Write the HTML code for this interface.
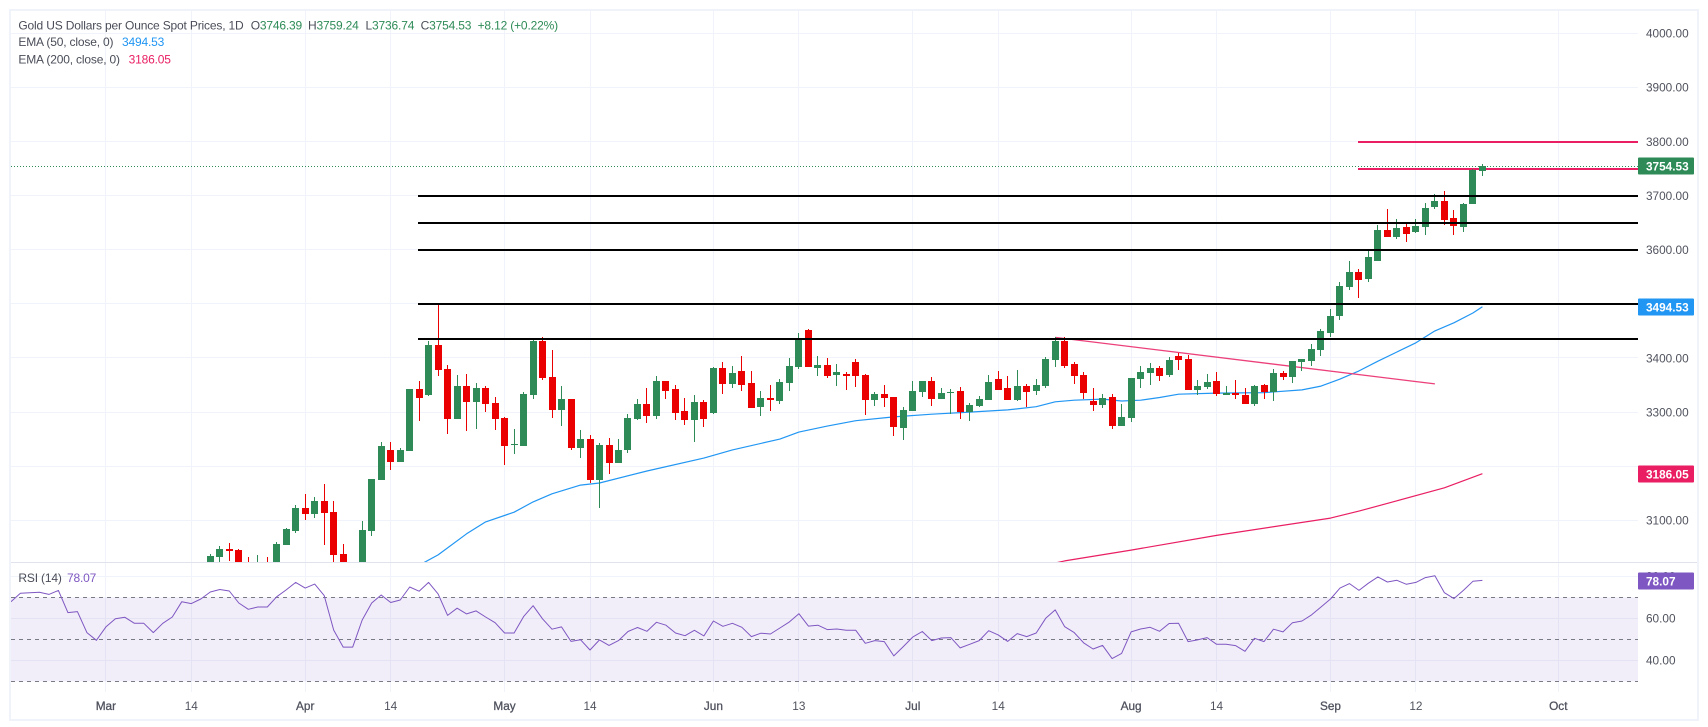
<!DOCTYPE html>
<html lang="en">
<head>
<meta charset="utf-8">
<title>Gold US Dollars per Ounce Spot Prices, 1D</title>
<style>
html,body{margin:0;padding:0;background:#fff;width:1708px;height:727px;overflow:hidden}
svg{display:block}
text{font-family:"Liberation Sans",sans-serif;font-size:12px;fill:#50535e}
.lg{font-size:12px;fill:#4a4d58;letter-spacing:-0.17px}
.gv{font-size:12px;fill:#2e8b57;letter-spacing:-0.17px}
.tag{font-weight:bold;fill:#fff;font-size:11.8px}
.ax{font-size:11.8px;fill:#50535e}
</style>
</head>
<body>
<svg id="chart" width="1708" height="727" viewBox="0 0 1708 727" xmlns="http://www.w3.org/2000/svg">
  <defs>
    <clipPath id="main-clip"><rect x="11" y="11" width="1627" height="551"></rect></clipPath>
    <clipPath id="rsi-clip"><rect x="11" y="563" width="1627" height="129"></rect></clipPath>
  </defs>
  <rect x="10" y="10" width="1688" height="710" fill="#fff" stroke="#f0f3fa" stroke-width="2"></rect>
  <g id="grid" shape-rendering="crispEdges"></g>
  <rect id="rsi-band" fill="#7e57c2" fill-opacity="0.1"></rect>
  <g id="rsi-dashes" shape-rendering="crispEdges"></g>
  <g id="main" clip-path="url(#main-clip)">
    <g id="emas"></g>
    <g id="drawn-pink"></g>
    <g id="candles" shape-rendering="crispEdges"></g>
    <g id="drawn-black" shape-rendering="crispEdges"></g>
  </g>
  <line x1="11" y1="562.5" x2="1697" y2="562.5" stroke="#e0e3eb" stroke-width="1"></line>
  <g id="rsi" clip-path="url(#rsi-clip)"></g>
  <g id="y-axis"></g>
  <g id="rsi-axis"></g>
  <g id="x-axis"></g>
  <g id="tags"></g>

  <g>
    <text class="lg" x="18.4" y="29.6">Gold US Dollars per Ounce Spot Prices, 1D</text>
    <text class="lg" x="250.7" y="29.6">O<tspan class="gv" fill="#2e8b57">3746.39</tspan></text>
    <text class="lg" x="308" y="29.6">H<tspan class="gv" fill="#2e8b57">3759.24</tspan></text>
    <text class="lg" x="365.5" y="29.6">L<tspan class="gv" fill="#2e8b57">3736.74</tspan></text>
    <text class="lg" x="420.6" y="29.6">C<tspan class="gv" fill="#2e8b57">3754.53</tspan></text>
    <text class="gv" x="477.6" y="29.6">+8.12 (+0.22%)</text>
    <text class="lg" x="18.4" y="46">EMA (50, close, 0)</text>
    <text class="lg" x="122" y="46" style="fill:#2196f3">3494.53</text>
    <text class="lg" x="18.4" y="63.4">EMA (200, close, 0)</text>
    <text class="lg" x="128.6" y="63.4" style="fill:#e91e63">3186.05</text>
    <text class="lg" x="18.4" y="582">RSI (14)</text>
    <text class="lg" x="67" y="582" style="fill:#7e57c2">78.07</text>
  </g>
</svg>
<script>
var opens = [3000,3032,3047,3045,3020,3010,3020,3020,3054,3080,3123,3112,3136,3115,3038,2985,
2980,3080,3175,3230,3208,
3228,3342,3331,3424,3379,3287,3348,3318,3344,3316,
3289,3239,3237,3331,3431,3364,3303,3324,3234,3251,
3175,3239,3205,3229,3287,3315,3292,3357,3342,3302,
3285,3318,3298,3381,3352,3376,3353,3309,3326,3320,
3353,3383,3451,3381,3387,3368,3370,3392,3368,3322,
3333,3328,3270,3302,3337,3357,3324,3335,3339,3300,
3311,3322,3361,3344,3322,3348,3339,3348,3396,3431,
3389,3368,3320,3313,3328,3274,3289,3361,3372,3381,
3368,3403,3398,3340,3346,3357,3331,3335,3331,3315,
3350,3337,3372,3365,3393,3395,3415,3447,
3478,3531,3559,3546,3579,3637,3624,3642,3633,3642,3679,3690,3659,3642,3685,3746.39];
var highs = [3038,3053,3058,3047,3032,3036,3032,3060,3086,3128,3149,3143,3167,3136,3056,2990,
3099,3176,3245,3245,3234,
3342,3357,3431,3500,3387,3368,3370,3353,3348,3328,
3291,3268,3337,3435,3438,3414,3348,3324,3266,3258,
3242,3252,3250,3296,3324,3344,3366,3357,3350,3326,
3331,3322,3383,3392,3385,3403,3376,3339,3350,3361,
3400,3446,3453,3403,3400,3388,3374,3398,3370,3337,
3350,3328,3309,3357,3358,3364,3344,3342,3346,3316,
3330,3368,3376,3366,3378,3352,3361,3401,3438,3438,
3392,3374,3344,3333,3333,3315,3363,3385,3390,3385,
3401,3409,3405,3359,3370,3374,3348,3359,3344,3350,
3352,3380,3376,3395,3399,3425,3454,3491,
3541,3579,3565,3600,3646,3676,3657,3650,3657,3687,3703,3709,3674,3687,3750,3759.24];
var lows = [2990,3020,3025,3015,3005,3000,3005,3015,3054,3077,3101,3104,3054,3015,2970,2960,
2960,3071,3175,3193,3208,
3228,3283,3329,3366,3259,3287,3265,3268,3300,3267,
3202,3222,3237,3324,3359,3289,3274,3230,3216,3168,
3122,3185,3205,3225,3285,3279,3287,3324,3285,3276,
3244,3272,3296,3333,3344,3339,3307,3292,3302,3315,
3339,3379,3383,3366,3363,3348,3340,3346,3294,3311,
3309,3255,3248,3302,3327,3311,3324,3296,3287,3283,
3309,3322,3340,3322,3320,3309,3331,3344,3383,3381,
3352,3324,3302,3307,3268,3274,3281,3344,3350,3357,
3364,3377,3340,3331,3342,3329,3331,3324,3315,3311,
3324,3321,3359,3353,3375,3386,3404,3438,
3470,3526,3511,3541,3579,3624,3620,3615,3631,3627,3676,3646,3628,3633,3685,3736.74];
var closes = [3034,3047,3043,3022,3015,3020,3015,3056,3084,3123,3112,3136,3114,3036,2975,2970,
3082,3176,3237,3208,3230,
3342,3326,3424,3377,3287,3348,3318,3344,3315,3287,
3237,3241,3333,3431,3363,3303,3324,3233,3251,3175,
3240,3205,3229,3289,3315,3292,3357,3339,3298,3285,
3318,3287,3381,3352,3372,3350,3307,3326,3322,3355,
3385,3433,3383,3387,3366,3374,3366,3366,3322,3333,
3326,3272,3303,3339,3357,3324,3335,3337,3300,3313,
3324,3355,3340,3322,3348,3337,3350,3398,3431,3385,
3366,3335,3313,3326,3274,3291,3363,3374,3381,3366,
3396,3396,3340,3348,3355,3333,3335,3331,3315,3348,
3337,3373,3364,3395,3399,3417,3449,3478,
3533,3559,3544,3587,3637,3624,3640,3629,3644,3677,3690,3655,3644,3685,3748,3754.53];

var ema50Bars = [22,24,27,29,32,34,36,39,41,46,52,55,60,62,65,68,72,76,80,84,87,89,91,94,96,98,100,102,106,111,115,117,119,121,123,125,127,129,131,133,134];
var ema50Values = [3017,3036,3075,3097,3115,3134,3149,3165,3169,3191,3215,3230,3250,3263,3274,3284,3291,3296,3300,3304,3310,3319,3322,3324,3320.5,3322,3327,3333,3335,3336,3341,3348,3361,3376,3394,3411,3428,3450,3465,3483,3494.53];
var ema200Bars = [89,90,97,106,118,121,125,130,134];
var ema200Values = [3021,3025,3045,3072,3104,3117,3136,3160,3186.05];

var rsiStartBar = -21;
var rsiValues = [67.9,71.9,72.2,72.4,71.4,73.3,62.7,63.2,53.2,49.5,55.9,59.8,60.5,57.6,57.6,53.2,57.6,60.6,67.9,67.0,69.2,72.5,73.7,73.0,67.3,64.3,65.4,65.4,70.3,73.5,77.1,74.4,76.3,70.8,54.4,46.3,46.3,59.2,67.3,71.1,67.5,68.7,74.9,72.9,77.1,71.6,61.4,64.8,62.1,63.5,60.6,57.9,53.0,53.0,60.8,66.0,59.7,54.8,55.9,49.0,49.8,44.9,
49.7,47.1,49.4,53.7,55.6,53.8,58.1,56.7,53.0,51.7,54.3,51.6,58.7,56.2,57.6,55.7,51.3,52.9,52.5,55.4,58.3,62.2,56.3,56.7,54.6,54.9,54.3,54.3,48.1,49.4,48.9,42.1,46.5,51.1,53.7,49.4,50.6,50.8,45.9,47.6,49.4,54.1,52.1,49.0,52.7,51.3,53.0,60.0,64.0,56.0,53.2,48.3,45.4,47.1,40.8,43.3,53.5,54.9,55.7,53.8,
57.5,57.6,48.9,49.7,50.8,47.6,47.6,47.0,44.3,50.5,48.9,54.8,53.5,57.9,58.7,61.6,65.4,69.2,74.4,76.5,73.3,76.7,79.7,77.3,78.1,76.2,77.1,79.4,80.3,72.2,69.4,73.3,77.6,78.07];

var priceTicks = [4000,3900,3800,3700,3600,3500,3400,3300,3200,3100];
var priceLabels = ["4000.00","3900.00","3800.00","3700.00","3600.00","3400.00","3300.00","3100.00"];
var rsiTicks = [80,60,40];
var rsiLevels = [70,50,30];
var timeLabels = ["Mar","14","Apr","14","May","14","Jun","13","Jul","14","Aug","14","Sep","12","Oct"];
var timeBars = [-11,-2,10,19,31,40,53,62,74,83,97,106,118,127,142];

var blackLevels = [3700,3650,3600,3500,3435];
var blackStartBar = 22;
var pinkLevels = [3800,3750];
var pinkStartBar = 121;
var trendBars = [89,129];
var trendPrices = [3438,3352];
var lastPrice = 3754.53;
var ema50Last = 3494.53;
var ema200Last = 3186.05;
var rsiLast = 78.07;

var NS = "http://www.w3.org/2000/svg";
var GREEN = "#2e8b57", RED = "#ea0000", PINK = "#e91e63", BLUE = "#2196f3", PURPLE = "#7e57c2", GRID = "#f0f3fa";
var PANE_R = 1638, LEFT = 11;

function px(i){ return 210.3 + 9.493 * i; }
function py(p){ return 33.3 + (4000 - p) * 0.5411; }
function ry(v){ return 597.3 + (70 - v) * 2.1; }
function make(tag, parent, attrs){
  var el = document.createElementNS(NS, tag);
  for (var k in attrs) el.setAttribute(k, attrs[k]);
  document.getElementById(parent).appendChild(el);
  return el;
}
function pointsOf(bars, values, yFn){
  return bars.map(function(b, j){ return px(b).toFixed(1) + "," + yFn(values[j]).toFixed(1); }).join(" ");
}

/* grid */
priceTicks.forEach(function(p){
  var y = Math.floor(py(p)) + 0.5;
  var el = make("line", "grid", {x1: LEFT, x2: PANE_R, y1: y, y2: y, stroke: GRID});
  
  
});
rsiTicks.forEach(function(v){
  var y = Math.floor(ry(v)) + 0.5;
  var el = make("line", "grid", {x1: LEFT, x2: PANE_R, y1: y, y2: y, stroke: GRID});
  
  
});
timeBars.forEach(function(b){
  var x = Math.floor(px(b)) + 0.5;
  var el = make("line", "grid", {x1: x, x2: x, y1: 11, y2: 692, stroke: GRID});
  
  
});

/* RSI band and level lines */
var band = document.getElementById("rsi-band");
band.setAttribute("x", LEFT);
band.setAttribute("width", PANE_R - LEFT);
band.setAttribute("y", ry(rsiLevels[0]));
band.setAttribute("height", ry(rsiLevels[2]) - ry(rsiLevels[0]));
rsiLevels.forEach(function(v){
  var y = Math.floor(ry(v)) + 0.5;
  var el = make("line", "rsi-dashes", {x1: LEFT, x2: PANE_R, y1: y, y2: y, stroke: "#787b86", "stroke-dasharray": "4 4"});
  
  
});

/* dotted last-price line */
var lastY = Math.floor(py(lastPrice)) + 0.5;
var dotted = make("line", "emas", {x1: LEFT, x2: PANE_R, y1: lastY, y2: lastY, stroke: GREEN, "stroke-dasharray": "1 2", "shape-rendering": "crispEdges"});



/* EMAs */
var ema50 = make("polyline", "emas", {points: pointsOf(ema50Bars, ema50Values, py), fill: "none", stroke: BLUE, "stroke-width": 1.2, "stroke-linejoin": "round"});


var ema200 = make("polyline", "emas", {points: pointsOf(ema200Bars, ema200Values, py), fill: "none", stroke: PINK, "stroke-width": 1.2, "stroke-linejoin": "round"});



/* pink drawings */
pinkLevels.forEach(function(p){
  var y = Math.round(py(p)) - 1;
  var el = make("rect", "drawn-pink", {x: px(pinkStartBar) - 1, y: y, width: PANE_R - px(pinkStartBar) + 1, height: 2, fill: PINK, "shape-rendering": "crispEdges"});
  
  
});
var trend = make("polyline", "drawn-pink", {points: pointsOf(trendBars, trendPrices, py), fill: "none", stroke: "#ec407a", "stroke-width": 1.3});



/* candles */
opens.forEach(function(o, i){
  var c = closes[i], h = highs[i], l = lows[i];
  var col = c >= o ? GREEN : RED;
  var cx = Math.floor(px(i));
  var wt = Math.round(py(h)), wb = Math.round(py(l));
  var wick = make("rect", "candles", {x: cx, y: wt, width: 1, height: Math.max(1, wb - wt), fill: col});
  
  
  var bt = Math.round(py(Math.max(o, c))), bb = Math.round(py(Math.min(o, c)));
  var body = make("rect", "candles", {x: cx - 3, y: bt, width: 7, height: Math.max(1, bb - bt), fill: col});
  
  
});

/* black levels */
blackLevels.forEach(function(p){
  var y = Math.round(py(p)) - 1;
  var el = make("rect", "drawn-black", {x: Math.round(px(blackStartBar)) - 1, y: y, width: PANE_R - px(blackStartBar) + 1, height: 2, fill: "#000"});
  
  
});

/* RSI line */
var rsiBars = rsiValues.map(function(v, j){ return rsiStartBar + j; });
var rsiLine = make("polyline", "rsi", {points: pointsOf(rsiBars, rsiValues, ry), fill: "none", stroke: PURPLE, "stroke-width": 1, "stroke-linejoin": "round"});



/* axis labels */
priceLabels.forEach(function(lbl){
  var t = make("text", "y-axis", {x: 1646, y: py(parseFloat(lbl)) + 4.3, "class": "ax"});
  t.textContent = lbl;
  
  
});
rsiTicks.forEach(function(v){
  var t = make("text", "rsi-axis", {x: 1646, y: ry(v) + 4.3, "class": "ax"});
  t.textContent = v.toFixed(2);
  
  
});
timeLabels.forEach(function(lbl, j){
  var isMonth = isNaN(parseInt(lbl, 10));
  var t = make("text", "x-axis", {x: px(timeBars[j]), y: 710, "text-anchor": "middle", "class": "ax"});
  t.textContent = lbl;
  if (isMonth) t.setAttribute("style", "fill:#50535e;stroke:#50535e;stroke-width:0.3px");
  
  
});

/* price tags */
function tag(y, value, color){
  var cy = Math.round(y);
  var r = make("rect", "tags", {x: 1638, y: cy - 8.5, width: 56, height: 17, rx: 1, fill: color});
  
  
  var t = make("text", "tags", {x: 1646, y: cy + 4.3, "class": "tag"});
  t.textContent = value.toFixed(2);
  
  
}
tag(py(lastPrice), lastPrice, GREEN);
tag(py(ema50Last), ema50Last, BLUE);
tag(py(ema200Last), ema200Last, PINK);
tag(ry(rsiLast) + 1, rsiLast, PURPLE);
</script>
</body>
</html>
